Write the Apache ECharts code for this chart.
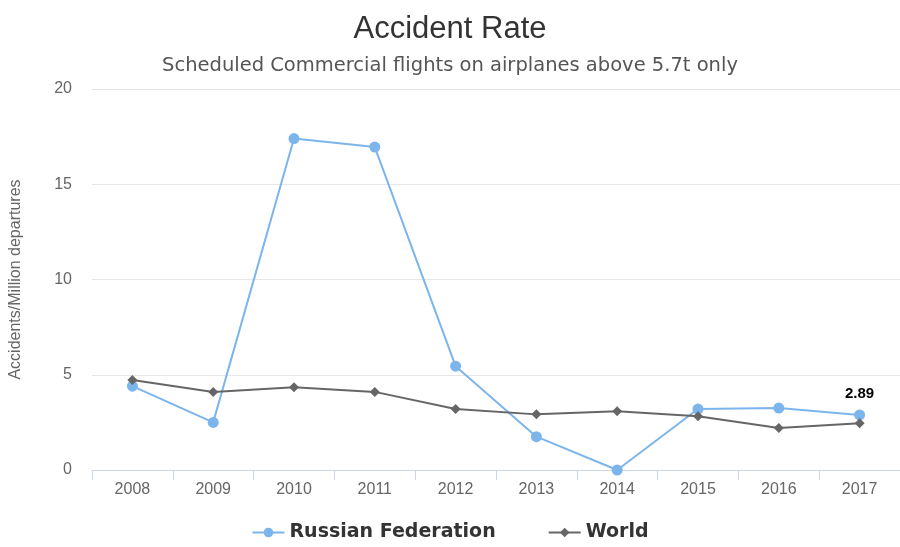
<!DOCTYPE html>
<html>
<head>
<meta charset="utf-8">
<script src="https://cdn.jsdelivr.net/npm/echarts@6/dist/echarts.min.js"></script>
<style>
  html, body { margin: 0; padding: 0; background: #fff; }
  #chart { width: 900px; height: 547px; }
</style>
</head>
<body>
<div id="chart"></div>
<script>
// 年份
const years = ['2008', '2009', '2010', '2011', '2012', '2013', '2014', '2015', '2016', '2017'];
// 俄罗斯联邦事故率
const russia = [4.4, 2.5, 17.4, 16.95, 5.45, 1.75, 0, 3.2, 3.25, 2.89];
// 全球事故率
const world = [4.72, 4.1, 4.35, 4.1, 3.2, 2.92, 3.08, 2.82, 2.2, 2.45];

const chart = echarts.init(document.getElementById('chart'));

const option = {
    animation: false,
    title: [
        {
            text: 'Accident Rate',
            left: 'center',
            top: 9,
            textStyle: { fontFamily: 'Liberation Sans', fontSize: 31, fontWeight: 'normal', color: '#333' }
        },
        {
            text: 'Scheduled Commercial flights on airplanes above 5.7t only',
            left: 'center',
            top: 51,
            textStyle: { fontFamily: 'DejaVu Sans', fontSize: 19.5, fontWeight: 'normal', color: '#555' }
        }
    ],
    legend: {
        bottom: 0,
        left: 'center',
        itemGap: 52,
        itemWidth: 32,
        itemHeight: 12,
        textStyle: { fontFamily: 'DejaVu Sans', fontSize: 19, fontWeight: 'bold', color: '#333' },
        data: ['Russian Federation', 'World']
    },
    grid: {
        left: 92,
        width: 815,
        top: 89,
        bottom: 77
    },
    xAxis: {
        type: 'category',
        data: years,
        boundaryGap: true,
        axisLine: { lineStyle: { color: '#ccd6eb' } },
        axisTick: { show: true, length: 10, lineStyle: { color: '#ccd6eb' } },
        axisLabel: { fontFamily: 'Liberation Sans', fontSize: 16, color: '#666', margin: 12 }
    },
    yAxis: {
        type: 'value',
        min: 0,
        max: 20,
        interval: 5,
        name: 'Accidents/Million departures',
        nameLocation: 'middle',
        nameGap: 68,
        nameTextStyle: { fontFamily: 'Liberation Sans', fontSize: 16, color: '#666' },
        axisLine: { show: false },
        axisTick: { show: false },
        splitLine: { lineStyle: { color: '#e6e6e6' } },
        axisLabel: { fontFamily: 'Liberation Sans', fontSize: 16, color: '#666', margin: 20 }
    },
    series: [
        {
            name: 'Russian Federation',
            type: 'line',
            data: russia.map((v, i) => i === russia.length - 1
                ? { value: v, label: { show: true, position: 'top', distance: 8, formatter: '{c}', fontFamily: 'Liberation Sans', fontSize: 15, fontWeight: 'bold', color: '#000' } }
                : v),
            symbol: 'circle',
            symbolSize: 11,
            itemStyle: { color: '#7cb5ec' },
            lineStyle: { color: '#7cb5ec', width: 2 },
            z: 2
        },
        {
            name: 'World',
            type: 'line',
            data: world,
            symbol: 'diamond',
            symbolSize: 10,
            itemStyle: { color: '#666' },
            lineStyle: { color: '#666', width: 2 },
            z: 3
        }
    ]
};

chart.setOption(option);
</script>
</body>
</html>
